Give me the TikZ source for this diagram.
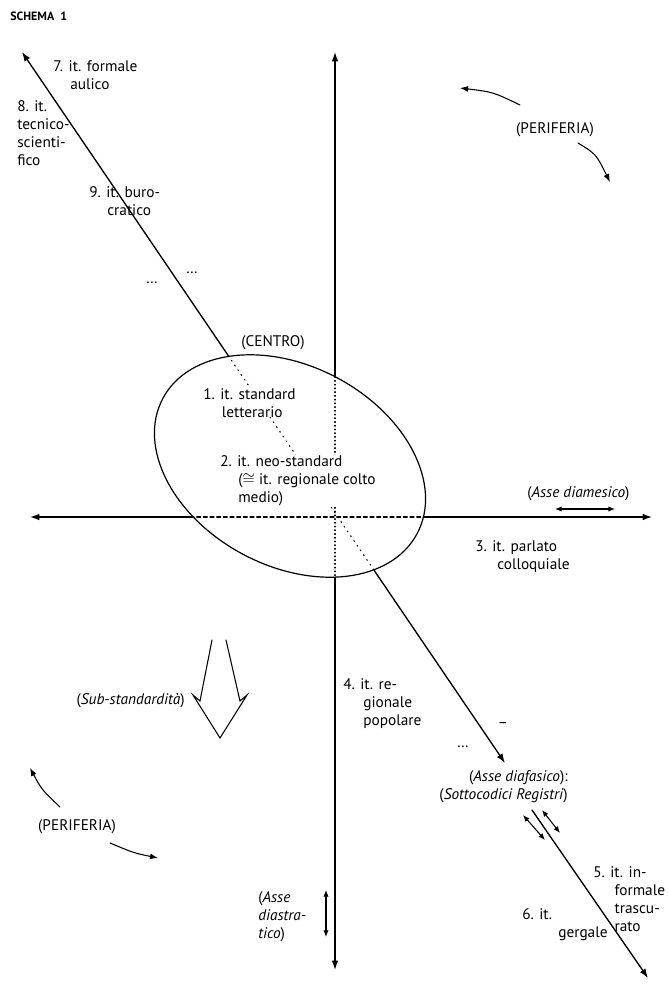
\documentclass[tikz,border=0pt]{standalone}
\usepackage{fontspec}
\setmainfont{PT Sans}
\usetikzlibrary{arrows.meta}

\tikzset{
  lab/.style={anchor=north west,inner sep=0pt,align=left,
    font=\fontsize{11.5}{13.5}\selectfont},
  one/.style={anchor=base west,inner sep=0pt,font=\fontsize{11.5}{13.5}\selectfont},
  tag/.style={inner sep=0pt,font=\fontsize{11.5}{13.5}\selectfont},
  axis/.style={line width=1pt},
  small arrow/.style={line width=.8pt,{Latex[length=5pt,width=4pt]}-{Latex[length=5pt,width=4pt]}},
  bend arrow/.style={line width=.8pt,-{Latex[length=6pt,width=4.5pt]}},
}

\begin{document}
\begin{tikzpicture}[x=.75pt,y=-.75pt,line cap=round,>={Latex[length=7pt,width=5pt]}]
  \useasboundingbox (0,0) rectangle (668,985);

  \node[anchor=base west,inner sep=0pt,font=\fontsize{9}{11}\selectfont\bfseries]
    (schema) at (10,21) {SCHEMA\ \ 1};

  % axes
  \coordinate (vtop) at (335,52);
  \coordinate (vbot) at (335,970);
  \coordinate (hleft) at (30,517);
  \coordinate (hright) at (652,517);
  \coordinate (dtop) at (22,52);
  \coordinate (dbot) at (505,763);
  \coordinate (etop) at (532,810);
  \coordinate (ebot) at (648,978);
  \draw[axis,<->] (vtop) -- (vbot);
  \draw[axis,<->] (hleft) -- (hright);
  \draw[axis,<->] (dtop) -- (dbot);
  \draw[axis,->] (etop) -- (ebot);

  % centro
  \coordinate (c) at (290,466);
  \fill[white,rotate around={-28:(c)}] (c) ellipse [x radius=144,y radius=100];
  \begin{scope}
    \clip[rotate around={-28:(c)}] (c) ellipse [x radius=144,y radius=100];
    \draw[line width=.8pt,dash pattern=on 3pt off 2pt] (hleft) -- (hright);
    \draw[line width=.8pt,dash pattern=on .6pt off 2.2pt] (vtop) -- (vbot);
    \draw[line width=.8pt,dash pattern=on .8pt off 3.5pt] (dtop) -- (dbot);
  \end{scope}
  \draw[line width=.9pt,rotate around={-28:(c)}] (c) ellipse [x radius=144,y radius=100];

  \node[tag] (centro) at (273,343) {(CENTRO)};
  \node[lab,fill=white] (l1) at (203,388) {1. it. standard\\\hspace*{14pt}letterario};
  \node[lab,fill=white] (l2) at (220,455)
    {2. it. neo-standard\\\hspace*{13.5pt}($\cong$ it. regionale colto\\\hspace*{13.5pt}medio)};

  % upper left
  \node[lab] (l7) at (53,60) {7. it. formale\\\hspace*{12.75pt}aulico};
  \node[lab] (l8) at (17,100) {8. it.\\tecnico-\\scienti-\\fico};
  \node[lab] (l9) at (89,186) {9. it. buro-\\\hspace*{13.5pt}cratico};
  \node[tag] (dotsa) at (192,273) {\ldots};
  \node[tag] (dotsb) at (152,283) {\ldots};

  % diamesico
  \node[one] (diam) at (527,497) {(\textit{Asse diamesico})};
  \coordinate (ma) at (555,509);
  \coordinate (mb) at (615,509);
  \draw[small arrow] (ma) -- (mb);
  \node[lab] (l3) at (475,540) {3. it. parlato\\\hspace*{16.5pt}colloquiale};

  % sub-standard
  \node[lab] (l4) at (343,678) {4. it. re-\\\hspace*{15pt}gionale\\\hspace*{15pt}popolare};
  \node[one,anchor=base east] (substd) at (185,704) {(\textit{Sub-standardità})};
  \draw[line width=.8pt,line join=miter]
    (212,640) -- (200,701) -- (193,695) -- (220,738) -- (247,695) -- (240,701) -- (226,640);

  % diafasico
  \node[tag] (dash) at (503,725) {--};
  \node[tag] (dotsc) at (463,747) {\ldots};
  \node[lab,anchor=north east,align=right] (diaf) at (568,770)
    {(\textit{Asse diafasico}):\\(\textit{Sottocodici Registri})};
  \coordinate (fa) at (523,815);
  \coordinate (fb) at (545,840);
  \coordinate (fc) at (542,810);
  \coordinate (fd) at (560,833);
  \draw[small arrow] (fa) -- (fb);
  \draw[small arrow] (fc) -- (fd);
  \node[lab] (l5) at (593,866) {5. it. in-\\\hspace*{16pt}formale\\\hspace*{16pt}trascu-\\\hspace*{16pt}rato};
  \node[lab] (l6) at (522,908) {6. it.\\\hspace*{27pt}gergale};

  % diastratico
  \node[lab] (diastr) at (258,891) {(\textit{Asse}\\\textit{diastra-}\\\textit{tico})};
  \coordinate (sa) at (326,890);
  \coordinate (sb) at (326,937);
  \draw[small arrow] (sa) -- (sb);

  % periferia
  \node[tag] (pera) at (555,130) {(PERIFERIA)};
  \coordinate (pa1) at (520,105);
  \coordinate (pa2) at (460,88);
  \coordinate (pa3) at (578,143);
  \coordinate (pa4) at (610,182);
  \draw[bend arrow] (pa1) .. controls (493,92) .. (pa2);
  \draw[bend arrow] (pa3) .. controls (596,154) .. (pa4);

  \node[tag] (perb) at (77,827) {(PERIFERIA)};
  \coordinate (pb1) at (60,807);
  \coordinate (pb2) at (30,768);
  \coordinate (pb3) at (110,843);
  \coordinate (pb4) at (158,858);
  \draw[bend arrow] (pb1) .. controls (42,790) .. (pb2);
  \draw[bend arrow] (pb3) .. controls (134,853) .. (pb4);
\end{tikzpicture}
\end{document}
